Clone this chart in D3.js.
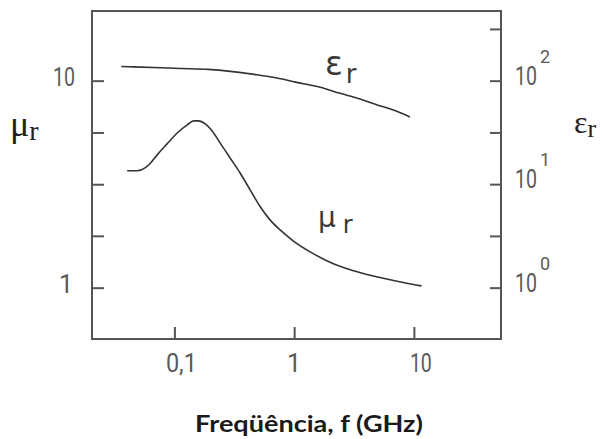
<!DOCTYPE html>
<html>
<head>
<meta charset="utf-8">
<script src="https://cdn.jsdelivr.net/npm/d3@7"></script>
<style>
  body { margin: 0; background: #fff; }
  svg { display: block; }
  .axis line { stroke: #555; stroke-width: 2; }
  .axis path { display: none; }
  .tick-label { fill: #5a5a5a; font-family: Roboto, 'Liberation Sans', sans-serif; }
  .curve { fill: none; stroke: #333; stroke-width: 1.6; }
</style>
</head>
<body>
<script>

var w = 602,
    h = 439;

// frame of the plot area (pixels)
var plotL = 92, plotR = 501, plotT = 11, plotB = 339;

// permittivity curve (frequency in GHz, eps_r)
var epsFreq = [0.036, 0.0458, 0.112, 0.193, 0.257, 0.489, 0.718, 1.05, 1.65, 2.42, 3.33, 4.89, 7.18, 9.26];
var epsVals = [137, 136, 131, 128.5, 125, 114, 106, 96.3, 86.2, 75.5, 68, 58.6, 50.5, 44.6];

// permeability curve (frequency in GHz, mu_r)
var muFreq = [0.0403, 0.0489, 0.0573, 0.063, 0.0718, 0.0869, 0.105, 0.128, 0.145, 0.159, 0.181, 0.206,
              0.242, 0.293, 0.355, 0.43, 0.521, 0.631, 0.764, 0.987, 1.36, 1.87, 2.58, 3.78, 5.55, 8.14, 11.6];
var muVals = [3.67, 3.67, 3.8, 3.99, 4.38, 4.95, 5.57, 6.11, 6.39, 6.39, 6.18, 5.73,
              4.98, 4.22, 3.57, 2.96, 2.46, 2.12, 1.9, 1.68, 1.49, 1.35, 1.25, 1.17, 1.11, 1.06, 1.02];

// ticks and labels
var xTicks = [0.1, 1, 10],
    xLabels = ['0,1', '1', '10'];
var muTicks = [1, 1.78, 3.16, 5.62, 10],
    muLabelVals = [1, 10],
    muLabels = ['1', '10'];
var epsTicks = [1, 3.16, 10, 31.6, 100, 316],
    epsLabelVals = [1, 10, 100],
    epsExps = ['0', '1', '2'];

var svg = d3.select('body')
    .append('svg')
    .attr('width', w)
    .attr('height', h);

// scales
var x = d3.scaleLog().domain([0.0205, 53.4]).range([plotL, plotR]);
var yMu = d3.scaleLog().domain([0.565, 21.7]).range([plotB, plotT]);
var yEps = d3.scaleLog().domain([0.319, 471]).range([plotB, plotT]);

// axes (ticks point inward)
svg.append('g')
    .attr('class', 'axis')
    .attr('transform', 'translate(0,' + plotB + ')')
    .call(d3.axisBottom(x).tickValues(xTicks).tickSizeInner(-12).tickSizeOuter(0).tickFormat(''));

svg.append('g')
    .attr('class', 'axis')
    .attr('transform', 'translate(' + plotL + ',0)')
    .call(d3.axisLeft(yMu).tickValues(muTicks).tickSizeInner(-12).tickSizeOuter(0).tickFormat(''));

svg.append('g')
    .attr('class', 'axis')
    .attr('transform', 'translate(' + plotR + ',0)')
    .call(d3.axisRight(yEps).tickValues(epsTicks).tickSizeInner(-11).tickSizeOuter(0).tickFormat(''));

// frame
svg.append('rect')
    .attr('x', plotL)
    .attr('y', plotT)
    .attr('width', plotR - plotL)
    .attr('height', plotB - plotT)
    .attr('fill', 'none')
    .attr('stroke', '#555')
    .attr('stroke-width', 2);

// x tick labels
svg.selectAll('.xlab')
    .data(xTicks)
    .enter()
    .append('text')
    .attr('class', 'tick-label')
    .attr('x', function(d, i){ return x(d) + (i == 1 ? 0 : 7); })
    .attr('y', 372)
    .attr('text-anchor', 'middle')
    .attr('font-size', 25)
    .each(function(d, i){
        if (i != 1) d3.select(this).attr('textLength', i == 0 ? 31 : 22).attr('lengthAdjust', 'spacingAndGlyphs');
    })
    .text(function(d, i){ return xLabels[i]; });

// left tick labels
svg.selectAll('.mulab')
    .data(muLabelVals)
    .enter()
    .append('text')
    .attr('class', 'tick-label')
    .attr('x', function(d, i){ return i == 0 ? 73 : 75; })
    .attr('y', function(d){ return yMu(d) + 5; })
    .attr('text-anchor', 'end')
    .attr('font-size', 25)
    .each(function(d, i){
        if (i == 1) d3.select(this).attr('textLength', 22).attr('lengthAdjust', 'spacingAndGlyphs');
    })
    .text(function(d, i){ return muLabels[i]; });

// right tick labels 10^n
var epsG = svg.selectAll('.epslab')
    .data(epsLabelVals)
    .enter()
    .append('g');

epsG.append('text')
    .attr('class', 'tick-label')
    .attr('x', 515)
    .attr('y', function(d){ return yEps(d) + 4; })
    .attr('font-size', 25)
    .attr('textLength', 22)
    .attr('lengthAdjust', 'spacingAndGlyphs')
    .text('10');

epsG.append('text')
    .attr('class', 'tick-label')
    .attr('x', 540)
    .attr('y', function(d){ return yEps(d) - 18; })
    .attr('font-size', 18)
    .text(function(d, i){ return epsExps[i]; });

// curves
var epsLine = d3.line()
    .x(function(d){ return x(d[0]); })
    .y(function(d){ return yEps(d[1]); })
    .curve(d3.curveMonotoneX);

var muLine = d3.line()
    .x(function(d){ return x(d[0]); })
    .y(function(d){ return yMu(d[1]); })
    .curve(d3.curveMonotoneX);

svg.append('path')
    .attr('class', 'curve')
    .attr('d', epsLine(d3.zip(epsFreq, epsVals)));

svg.append('path')
    .attr('class', 'curve')
    .attr('d', muLine(d3.zip(muFreq, muVals)));

// curve labels inside the plot
var inEps = svg.append('text')
    .attr('x', 325)
    .attr('y', 75)
    .attr('fill', '#3a3a3a')
    .attr('font-family', "'DejaVu Sans', sans-serif")
    .attr('font-size', 33);
inEps.append('tspan').text('ε');
inEps.append('tspan').attr('dx', 3).attr('dy', 8).attr('font-size', 26).text('r');

var inMu = svg.append('text')
    .attr('x', 318)
    .attr('y', 227)
    .attr('fill', '#3a3a3a')
    .attr('font-family', "'DejaVu Sans', sans-serif")
    .attr('font-size', 28);
inMu.append('tspan').text('μ');
inMu.append('tspan').attr('dx', 7).attr('dy', 6).attr('font-size', 24).text('r');

// axis titles (serif)
var muTitle = svg.append('text')
    .attr('x', 10)
    .attr('y', 136)
    .attr('fill', '#222')
    .attr('font-family', "'Liberation Serif', 'DejaVu Serif', serif")
    .attr('font-size', 36);
muTitle.append('tspan').text('μ');
muTitle.append('tspan').attr('dy', 4).attr('font-size', 28).text('r');

var epsTitle = svg.append('text')
    .attr('x', 574)
    .attr('y', 133)
    .attr('fill', '#222')
    .attr('font-family', "'Liberation Serif', 'DejaVu Serif', serif")
    .attr('font-size', 32);
epsTitle.append('tspan').text('ε');
epsTitle.append('tspan').attr('dy', 4).attr('font-size', 26).text('r');

// x title
svg.append('text')
    .attr('x', 309)
    .attr('y', 432)
    .attr('text-anchor', 'middle')
    .attr('fill', '#1a1a1a')
    .attr('font-family', "Lato, 'DejaVu Sans', sans-serif")
    .attr('font-weight', 'bold')
    .attr('font-size', 23)
    .attr('textLength', 228)
    .attr('lengthAdjust', 'spacingAndGlyphs')
    .text('Freqüência, f (GHz)');

</script>
</body>
</html>
